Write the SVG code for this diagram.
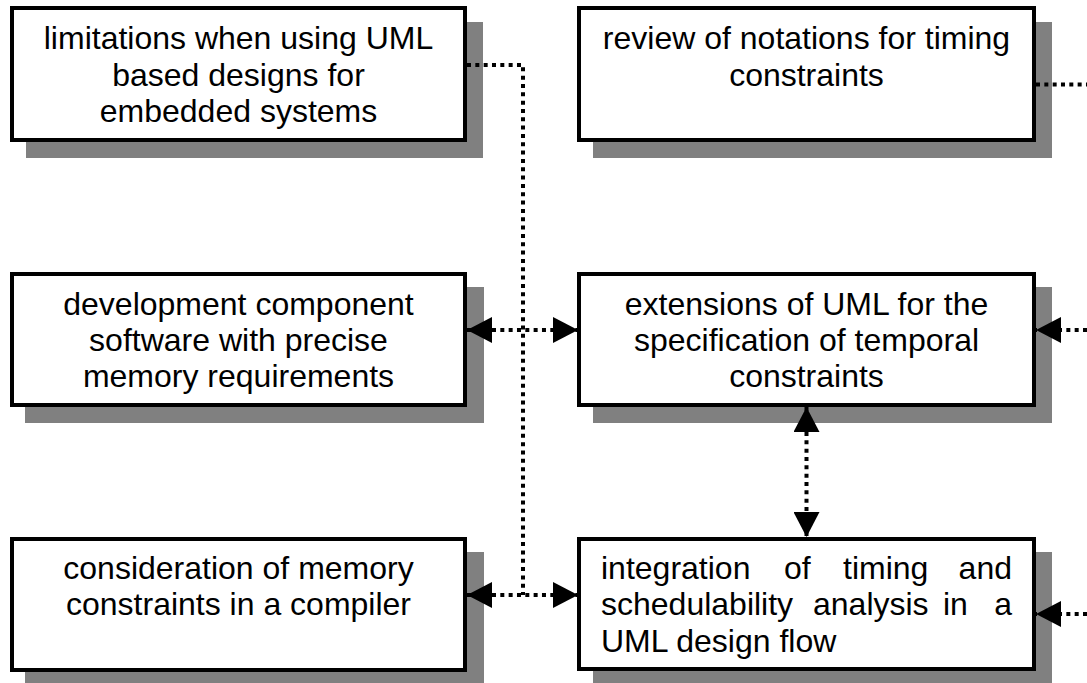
<svg xmlns="http://www.w3.org/2000/svg" width="1087" height="683" viewBox="0 0 1087 683">
<style>
.shadow{fill:#808080;stroke:none}
.box{fill:#ffffff;stroke:#000000;stroke-width:4}
.t{font-family:"Liberation Sans",Arial,sans-serif;font-size:32px;fill:#000000}
.c{text-anchor:middle}
.e{text-anchor:end}
.dot{fill:none;stroke:#000000;stroke-width:4;stroke-dasharray:4 4.33}
</style>
<defs>
<marker id="ah" markerUnits="userSpaceOnUse" markerWidth="25" markerHeight="26" refX="25" refY="13" orient="auto-start-reverse" viewBox="0 0 25 26">
<path d="M0,0 L25,13 L0,26 z" fill="#000000"/>
</marker>
</defs>
<rect width="1087" height="683" fill="#ffffff"/>
<g id="n1">
<rect class="shadow" x="26" y="22" width="457" height="136"/>
<rect class="box" x="12" y="8" width="453" height="132"/>
<text class="t c" x="238.5" y="49">limitations when using UML</text>
<text class="t c" x="238.5" y="85.5">based designs for</text>
<text class="t c" x="238.5" y="122">embedded systems</text>
</g>
<g id="n2">
<rect class="shadow" x="593" y="22" width="459" height="136"/>
<rect class="box" x="579" y="8" width="455" height="132"/>
<text class="t c" x="806.5" y="49">review of notations for timing</text>
<text class="t c" x="806.5" y="85.5">constraints</text>
</g>
<g id="n3">
<rect class="shadow" x="25" y="287" width="459" height="136"/>
<rect class="box" x="12" y="274" width="453" height="131"/>
<text class="t c" x="238.5" y="315">development component</text>
<text class="t c" x="238.5" y="351">software with precise</text>
<text class="t c" x="238.5" y="387">memory requirements</text>
</g>
<g id="n4">
<rect class="shadow" x="593" y="287" width="459" height="136"/>
<rect class="box" x="579" y="274" width="455" height="131"/>
<text class="t c" x="806.5" y="315">extensions of UML for the</text>
<text class="t c" x="806.5" y="351">specification of temporal</text>
<text class="t c" x="806.5" y="387">constraints</text>
</g>
<g id="n5">
<rect class="shadow" x="25" y="552" width="459" height="136"/>
<rect class="box" x="12" y="539" width="453" height="131"/>
<text class="t c" x="238.5" y="579">consideration of memory</text>
<text class="t c" x="238.5" y="615">constraints in a compiler</text>
</g>
<g id="n6">
<rect class="shadow" x="593" y="552" width="459" height="136"/>
<rect class="box" x="579" y="539" width="455" height="130"/>
<text class="t" x="601" y="579">integration</text>
<text class="t" x="784" y="579">of</text>
<text class="t" x="843" y="579">timing</text>
<text class="t e" x="1012" y="579">and</text>
<text class="t" x="601" y="615">schedulability</text>
<text class="t" x="813" y="615">analysis</text>
<text class="t" x="943" y="615">in</text>
<text class="t e" x="1012" y="615">a</text>
<text class="t" x="601" y="651.5">UML design flow</text>
</g>
<g id="connectors">
<path class="dot" d="M467,65 H523 V595"/>
<path class="dot" d="M467,330 H578" marker-start="url(#ah)" marker-end="url(#ah)"/>
<path class="dot" d="M467,595 H578" marker-start="url(#ah)" marker-end="url(#ah)"/>
<path class="dot" d="M806.5,407 V537" marker-start="url(#ah)" marker-end="url(#ah)"/>
<path class="dot" d="M1036,84.5 H1087"/>
<path class="dot" d="M1087,330 H1036" marker-end="url(#ah)"/>
<path class="dot" d="M1087,614 H1036" marker-end="url(#ah)"/>
</g>
</svg>
